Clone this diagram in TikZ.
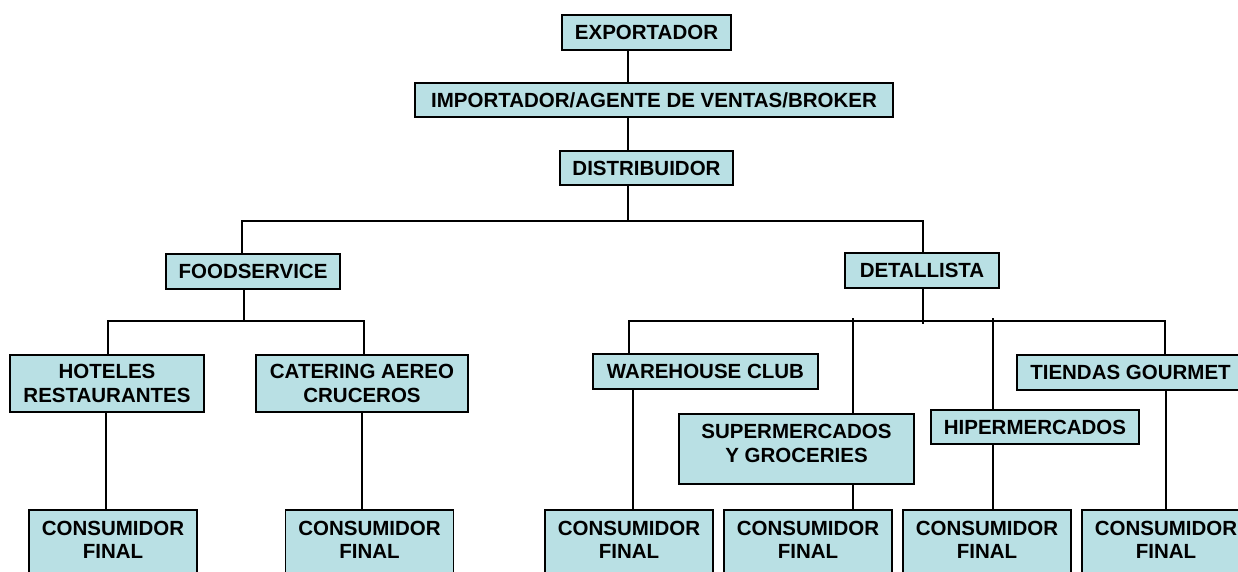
\documentclass[tikz,border=0pt]{standalone}
\usepackage{fontspec}
\setmainfont{Liberation Sans}
\definecolor{boxfill}{RGB}{185,224,228}

\begin{document}
\begin{tikzpicture}[x=1pt, y=-1pt, line width=1.8pt,
  font=\fontsize{20.5}{24}\selectfont\bfseries,
  box/.style={draw, fill=boxfill, inner sep=0pt, align=center},
  final/.style={box, anchor=north, minimum width=168pt, inner ysep=11.7pt,
    font=\fontsize{20.5}{22.7}\selectfont\bfseries}]
  \useasboundingbox (0,0) rectangle (1238,572);
  \clip (0,0) rectangle (1238,572);

  % cadena principal
  \node[box, minimum width=169pt, minimum height=35pt] (exp) at (646.5,32.5) {EXPORTADOR};
  \node[box, minimum width=478pt, minimum height=34pt] (imp) at (654,100) {IMPORTADOR/AGENTE DE VENTAS/BROKER};
  \node[box, minimum width=173pt, minimum height=34pt] (dis) at (646.5,168) {DISTRIBUIDOR};
  \node[box, minimum width=174pt, minimum height=35pt] (food) at (253,271.5) {FOODSERVICE};
  \node[box, minimum width=154pt, minimum height=35pt] (det) at (922,270.5) {DETALLISTA};

  % canales
  \node[box, minimum width=194pt, minimum height=57pt] (hot) at (107,383.5) {HOTELES\\RESTAURANTES};
  \node[box, minimum width=212pt, minimum height=57pt] (cat) at (362,383.5) {CATERING AEREO\\CRUCEROS};
  \node[box, minimum width=225pt, minimum height=35pt] (ware) at (705.5,371.5) {WAREHOUSE CLUB};
  \node[box, minimum width=235pt, minimum height=70pt] (sup) at (796.5,449) {SUPERMERCADOS\\Y GROCERIES\\[-13pt]\mbox{}};
  \node[box, minimum width=208pt, minimum height=34pt] (hip) at (1035,427) {HIPERMERCADOS};
  \node[box, minimum width=227pt, minimum height=35pt] (tie) at (1130.5,372.5) {TIENDAS GOURMET};

  % consumidor final
  \node[final] (cf1) at (113,509) {CONSUMIDOR\\FINAL\\\mbox{}};
  \node[final] (cf2) at (369.5,509) {CONSUMIDOR\\FINAL\\\mbox{}};
  \node[final] (cf3) at (629,509) {CONSUMIDOR\\FINAL\\\mbox{}};
  \node[final] (cf4) at (808,509) {CONSUMIDOR\\FINAL\\\mbox{}};
  \node[final] (cf5) at (987,509) {CONSUMIDOR\\FINAL\\\mbox{}};
  \node[final] (cf6) at (1166,509) {CONSUMIDOR\\FINAL\\\mbox{}};

  % tronco
  \coordinate (trunk) at (628,221);
  \draw (exp.south -| trunk) -- (imp.north -| trunk);
  \draw (imp.south -| trunk) -- (dis.north -| trunk);
  \draw (dis.south -| trunk) -- (trunk);
  \coordinate (fa) at (242,221);
  \coordinate (da) at (923,221);
  \draw (food.north -| fa) -- (fa) -- (da) -- (det.north -| da);

  % foodservice
  \coordinate (fb) at (244,321);
  \coordinate (fl) at (108,321);
  \coordinate (fr) at (364,321);
  \draw (food.south -| fb) -- (fb);
  \draw (hot.north -| fl) -- (fl) -- (fr) -- (cat.north -| fr);

  % detallista
  \coordinate (db) at (923,321);
  \coordinate (d1) at (629,321);
  \coordinate (d2) at (853,321);
  \coordinate (d3) at (993,321);
  \coordinate (d4) at (1165,321);
  \draw (det.south -| db) -- ([yshift=-3pt]db);
  \draw (ware.north -| d1) -- (d1) -- (d4) -- (tie.north -| d4);
  \draw ([yshift=3pt]d2) -- (sup.north -| d2);
  \draw ([yshift=3pt]d3) -- (hip.north -| d3);

  % hasta el consumidor
  \foreach \src/\dst/\xx in {hot/cf1/106, cat/cf2/362, ware/cf3/633,
                             sup/cf4/853, hip/cf5/993, tie/cf6/1166}{
    \coordinate (t) at (\xx,0);
    \draw (\src.south -| t) -- (\dst.north -| t);
  }
\end{tikzpicture}
\end{document}
